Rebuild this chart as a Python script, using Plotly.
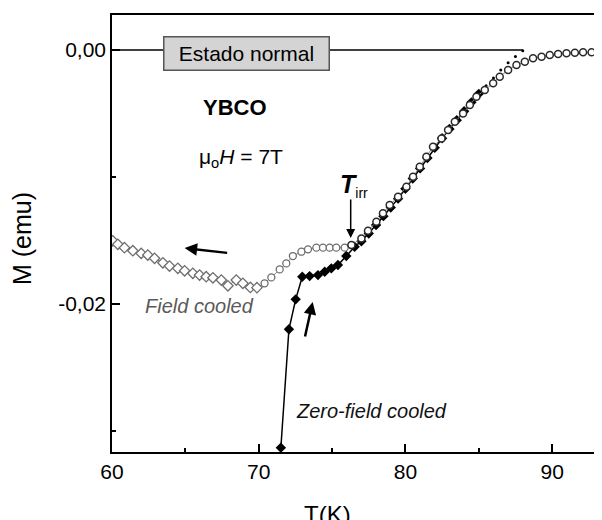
import plotly.graph_objects as go

# ---- data ----
fc_T = [60.05, 60.40, 60.85, 61.42, 61.99, 62.44, 62.90, 63.47, 63.92, 64.49, 64.95,
        65.51, 65.97, 66.42, 66.88, 67.45, 67.90, 68.47, 68.92, 69.43, 69.88, 70.40,
        70.86, 71.43, 71.88, 72.33, 72.91, 73.36, 73.93, 74.38, 74.84, 75.29, 75.86,
        76.32, 77.00, 77.45, 78.02, 78.47, 78.93, 79.50, 80.07, 80.52, 80.98, 81.43,
        81.88, 82.46, 82.91, 83.37, 83.93, 84.39, 84.84, 85.41, 85.98, 86.43, 87.00,
        87.57, 88.14, 88.70, 89.28, 89.84, 90.41, 90.98, 91.55, 92.11, 92.69, 93.14]
fc_M = [-0.01502, -0.01530, -0.01556, -0.01580, -0.01601, -0.01614, -0.01640, -0.01675,
        -0.01701, -0.01719, -0.01738, -0.01758, -0.01772, -0.01785, -0.01793, -0.01811,
        -0.01856, -0.01811, -0.01837, -0.01869, -0.01871, -0.01837, -0.01790, -0.01727,
        -0.01680, -0.01622, -0.01588, -0.01569, -0.01556, -0.01556, -0.01556, -0.01556,
        -0.01556, -0.01535, -0.01483, -0.01423, -0.01352, -0.01286, -0.01220, -0.01155,
        -0.01076, -0.00998, -0.00919, -0.00840, -0.00761, -0.00696, -0.00630, -0.00565,
        -0.00499, -0.00433, -0.00368, -0.00315, -0.00262, -0.00210, -0.00157, -0.00118,
        -0.00092, -0.00065, -0.00053, -0.00039, -0.00031, -0.00026, -0.00021, -0.00018,
        -0.00018, -0.00013]

zfc_T = [71.51, 72.06, 72.52, 72.97, 73.47, 74.04, 74.50, 74.95, 75.40, 75.97, 76.54,
         77.00, 77.50, 78.00, 78.50, 79.00, 79.50, 80.00, 80.50, 81.00, 81.50, 82.00,
         82.50, 83.00, 83.50, 84.00, 84.50, 85.00, 85.50, 86.00, 86.50, 87.00, 87.50, 88.00]
zfc_M = [-0.03131, -0.02199, -0.01963, -0.01785, -0.01780, -0.01772, -0.01746, -0.01719,
         -0.01693, -0.01622, -0.01549, -0.01505, -0.01445, -0.01378, -0.01308, -0.01240,
         -0.01170, -0.01092, -0.01012, -0.00932, -0.00850, -0.00770, -0.00695, -0.00622,
         -0.00552, -0.00482, -0.00412, -0.00345, -0.00282, -0.00220, -0.00158, -0.00100,
         -0.00050, -0.00005]

x_ticks = [60, 70, 80, 90]
y_ticks = [0.0, -0.02]
y_ticklabels = ["0,00", "-0,02"]

FONT = "Liberation Sans, Arial, sans-serif"

fig = go.Figure()

# ZFC: filled diamonds + line, tail as small dots
n_main = sum(1 for t in zfc_T if t <= 85.0)
fig.add_trace(go.Scatter(x=zfc_T[:n_main], y=zfc_M[:n_main], mode="lines+markers",
                         line=dict(color="black", width=1.5),
                         marker=dict(symbol="diamond", size=8, color="black"),
                         showlegend=False))
fig.add_trace(go.Scatter(x=zfc_T[n_main - 1:], y=zfc_M[n_main - 1:], mode="markers",
                         marker=dict(symbol="circle", size=3, color="black"),
                         showlegend=False))

# FC: thin connecting line, then markers by region
fig.add_trace(go.Scatter(x=fc_T, y=fc_M, mode="lines",
                         line=dict(color="#8a8a8a", width=1), showlegend=False))
lo = [i for i, t in enumerate(fc_T) if t < 70.2]
mid = [i for i, t in enumerate(fc_T) if 70.2 <= t < 76.2]
hi = [i for i, t in enumerate(fc_T) if t >= 76.2]
fig.add_trace(go.Scatter(x=[fc_T[i] for i in lo], y=[fc_M[i] for i in lo], mode="markers",
                         marker=dict(symbol="diamond", size=8, color="white",
                                     line=dict(color="#6e6e6e", width=1.3)),
                         showlegend=False))
fig.add_trace(go.Scatter(x=[fc_T[i] for i in mid], y=[fc_M[i] for i in mid], mode="markers",
                         marker=dict(symbol="circle", size=7, color="white",
                                     line=dict(color="#6e6e6e", width=1.3)),
                         showlegend=False))
fig.add_trace(go.Scatter(x=[fc_T[i] for i in hi], y=[fc_M[i] for i in hi], mode="markers",
                         marker=dict(symbol="circle", size=7, color="white",
                                     line=dict(color="#2a2a2a", width=1.5)),
                         showlegend=False))

# zero (normal state) line
fig.add_shape(type="line", xref="x", yref="y", x0=60, x1=zfc_T[-1], y0=0, y1=0,
              line=dict(color="black", width=1.5), layer="below")

ann = []
ann.append(dict(x=69.14, y=-0.00028, xref="x", yref="y", text="Estado normal",
                showarrow=False, font=dict(family=FONT, size=21, color="black"),
                bgcolor="#d4d4d4", bordercolor="#555555", borderwidth=1.5, borderpad=0,
                width=164, height=32, xanchor="center", yanchor="middle"))
ann.append(dict(x=68.36, y=-0.00449, xref="x", yref="y", text="<b>YBCO</b>",
                showarrow=False, font=dict(family=FONT, size=22, color="black")))
ann.append(dict(x=68.77, y=-0.0085, xref="x", yref="y", text="μ<sub>o</sub><i>H</i> = 7T",
                showarrow=False, font=dict(family=FONT, size=21, color="black")))
ann.append(dict(x=76.5, y=-0.0107, xref="x", yref="y",
                text="<b><i>T</i></b><sub><span style='font-size:14px'>irr</span></sub>",
                showarrow=False, font=dict(family=FONT, size=25, color="black")))
ann.append(dict(x=65.97, y=-0.02016, xref="x", yref="y", text="<i>Field cooled</i>",
                showarrow=False, font=dict(family=FONT, size=20, color="#5a5a5a")))
ann.append(dict(x=77.67, y=-0.0284, xref="x", yref="y", text="<i>Zero-field cooled</i>",
                showarrow=False, font=dict(family=FONT, size=20, color="#111111")))
# axis titles
ann.append(dict(x=0.4388, y=-0.108, xref="paper", yref="paper", text="T(K)",
                showarrow=False, xanchor="center", yanchor="top",
                font=dict(family=FONT, size=24, color="black")))
ann.append(dict(x=-0.1837, y=0.4897, xref="paper", yref="paper", text="M (emu)",
                showarrow=False, xanchor="center", yanchor="middle", textangle=-90,
                font=dict(family=FONT, size=25, color="black")))
# arrows
ann.append(dict(x=76.27, y=-0.0148, xref="x", yref="y", ax=0, ay=-40, text="",
                showarrow=True, arrowhead=2, arrowsize=1.2, arrowwidth=1.5, arrowcolor="black"))
ann.append(dict(x=64.95, y=-0.01559, xref="x", yref="y", ax=44, ay=5, text="",
                showarrow=True, arrowhead=2, arrowsize=1, arrowwidth=2.5, arrowcolor="black"))
ann.append(dict(x=73.68, y=-0.01984, xref="x", yref="y", ax=-8, ay=36, text="",
                showarrow=True, arrowhead=2, arrowsize=1, arrowwidth=2.5, arrowcolor="black"))

# the page body adds an 8px offset, so margins compensate for it
fig.update_layout(
    width=602, height=520,
    margin=dict(l=104, r=8, t=7, b=76),
    paper_bgcolor="white", plot_bgcolor="white",
    font=dict(family=FONT, size=21, color="black"),
    annotations=ann,
    showlegend=False,
)
fig.update_xaxes(range=[60, 93.4], tickvals=x_ticks, ticks="inside", ticklen=8, tickwidth=1.5,
                 tickcolor="black", showline=True, linecolor="black", linewidth=1.5,
                 mirror=True, showgrid=False, zeroline=False, automargin=False,
                 tickfont=dict(size=21),
                 minor=dict(tickvals=[65, 75, 85], ticks="inside", ticklen=4, tickwidth=1.5,
                            tickcolor="black", showgrid=False))
fig.update_yaxes(range=[-0.03165, 0.00276], tickvals=y_ticks, ticktext=y_ticklabels,
                 ticks="inside", ticklen=8, tickwidth=1.5, tickcolor="black",
                 showline=True, linecolor="black", linewidth=1.5, mirror=False,
                 showgrid=False, zeroline=False, tickfont=dict(size=21), automargin=False,
                 minor=dict(tickvals=[-0.01, -0.03], ticks="inside", ticklen=4, tickwidth=1.5,
                            tickcolor="black", showgrid=False))

fig.write_html("out.html")
